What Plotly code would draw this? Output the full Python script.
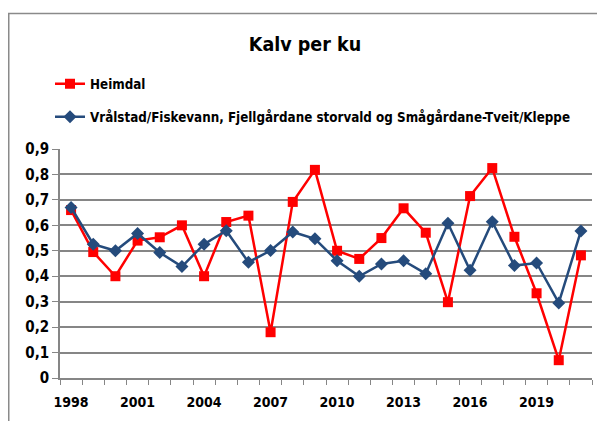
import plotly.graph_objects as go

years = list(range(1998, 2022))
heimdal = [0.66, 0.495, 0.40, 0.54, 0.553, 0.60, 0.40, 0.613, 0.638, 0.18, 0.692,
           0.818, 0.50, 0.468, 0.55, 0.667, 0.571, 0.298, 0.715, 0.825, 0.555, 0.333, 0.07, 0.482]
vraalstad = [0.67, 0.526, 0.50, 0.568, 0.493, 0.438, 0.526, 0.579, 0.455, 0.501, 0.574,
             0.547, 0.461, 0.40, 0.448, 0.461, 0.41, 0.608, 0.423, 0.614, 0.442, 0.452, 0.295, 0.578]
x_labels = [str(y) for y in years[::3]]
series_names = ["Heimdal", "Vrålstad/Fiskevann, Fjellgårdane storvald og Smågårdane-Tveit/Kleppe"]

FONT = "DejaVu Sans Condensed, Roboto, Liberation Sans, Arial, sans-serif"
W, H = 605, 421
OFF = 8  # page body margin
L, T = 60 - OFF, 149 - OFF
pw, ph = 532, 229
R, B = W - L - pw, H - T - ph

def px_x(p):  # page pixel -> paper
    return (p - OFF - L) / pw

def px_y(p):
    return (T + ph - (p - OFF)) / ph

fig = go.Figure()
fig.add_trace(go.Scatter(
    x=years, y=heimdal, name="<b>" + series_names[0] + "</b>", mode="lines+markers",
    line=dict(color="#FF0000", width=2.5),
    marker=dict(symbol="square", size=10, color="#FF0000"),
    legend="legend",
))
fig.add_trace(go.Scatter(
    x=years, y=vraalstad, name="<b>" + series_names[1] + "</b>", mode="lines+markers",
    line=dict(color="#254B7C", width=2.5),
    marker=dict(symbol="diamond", size=10, color="#254B7C"),
    legend="legend2",
))

LEG_FONT = dict(family=FONT, size=13.3, color="black")
fig.update_layout(
    width=W, height=H,
    margin=dict(l=L, r=R, t=T, b=B, autoexpand=False),
    paper_bgcolor="white", plot_bgcolor="white",
    separators=", ",
    font=dict(family=FONT, color="black", size=14),
    title=dict(text="<b>Kalv per ku</b>", x=(305 - OFF) / W, xref="container", xanchor="center",
               y=1 - (44 - OFF) / H, yref="container", yanchor="middle",
               font=dict(family=FONT, size=19.5, color="black")),
    showlegend=True,
    legend=dict(x=px_x(50), y=px_y(84), xanchor="left", yanchor="middle",
                font=LEG_FONT, bgcolor="rgba(0,0,0,0)"),
    legend2=dict(x=px_x(50), y=px_y(117), xanchor="left", yanchor="middle",
                 font=LEG_FONT, bgcolor="rgba(0,0,0,0)"),
    xaxis=dict(
        range=[1997.5, 2021.5], tickmode="array", tickvals=years[::3],
        ticktext=["<b>" + t + "</b>" for t in x_labels],
        ticks="", showgrid=False, showline=True, linecolor="#868686", linewidth=1.5,
        tickfont=dict(family=FONT, size=14, color="black"), ticklabelstandoff=10,
        minor=dict(tick0=1997.5, dtick=1, ticks="outside", ticklen=5, tickcolor="#868686",
                   tickwidth=1, showgrid=False),
        zeroline=False,
    ),
    yaxis=dict(
        range=[0, 0.9], dtick=0.1, tick0=0, showgrid=True, gridcolor="#868686", gridwidth=1.5,
        showline=True, linecolor="#868686", linewidth=1.5, ticks="outside", ticklen=6,
        tickcolor="#868686", zeroline=False, tickprefix="<b>", ticksuffix="</b>",
        tickfont=dict(family=FONT, size=15, color="black"),
    ),
    shapes=[dict(type="rect", xref="paper", yref="paper",
                 x0=(0.75 - L) / pw, x1=px_x(660), y0=px_y(480), y1=px_y(13.5),
                 line=dict(color="#8A8A8A", width=1.5), fillcolor="rgba(0,0,0,0)", layer="below")],
)

fig.write_html("out.html")
